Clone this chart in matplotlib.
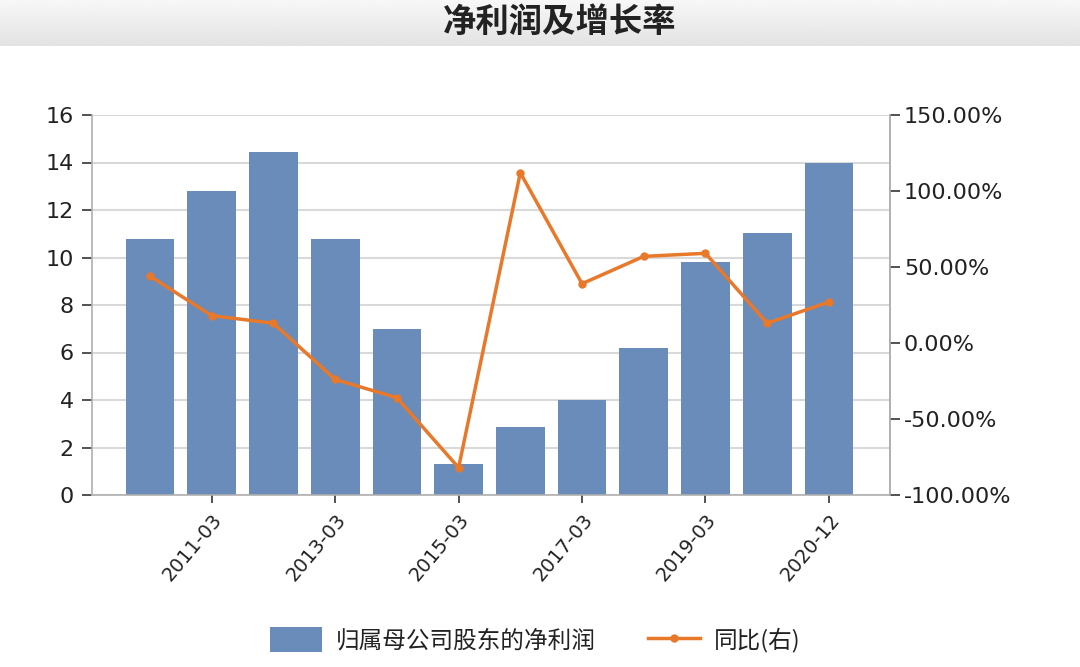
import numpy as np
import matplotlib.pyplot as plt

plt.rcParams['font.family'] = ['DejaVu Sans', 'Noto Sans CJK SC']

periods = ['2010-03', '2011-03', '2012-03', '2013-03', '2014-03', '2015-03',
           '2016-03', '2017-03', '2018-03', '2019-03', '2019-12', '2020-12']
profit = [10.8, 12.8, 14.45, 10.8, 7.0, 1.3, 2.85, 4.0, 6.2, 9.8, 11.05, 14.0]
growth = [44, 18, 13, -24, -36, -82, 112, 39, 57, 59, 13, 27]
tick_idx = [1, 3, 5, 7, 9, 11]

BAR_COLOR = '#6a8cba'
LINE_COLOR = '#e8782a'
GRID_COLOR = '#d9d9d9'
SPINE_COLOR = '#b0b0b0'
CJK = ['Noto Sans CJK SC', 'DejaVu Sans']

fig = plt.figure(figsize=(10.8, 6.67), dpi=100)

# grey title band
band = fig.add_axes([0, 1 - 46 / 667, 1, 46 / 667])
grad = np.linspace(0.97, 0.89, 50).reshape(-1, 1)
band.imshow(grad, aspect='auto', cmap='gray', vmin=0, vmax=1, extent=[0, 1, 0, 1])
band.axis('off')
fig.text(560 / 1080, 1 - 22 / 667, '净利润及增长率', ha='center', va='center',
         fontsize=24, fontweight='bold', family=CJK, color='#222222')

ax = fig.add_axes([92 / 1080, 1 - 495 / 667, (890 - 92) / 1080, (495 - 115) / 667])
x = np.arange(len(periods))
bars = ax.bar(x, profit, width=0.79, color=BAR_COLOR, zorder=2)
ax.set_ylim(0, 16)
ax.set_yticks(np.arange(0, 17, 2))
ax.set_xlim(-0.94, 11.99)
ax.set_xticks(tick_idx)
ax.set_xticklabels([periods[i] for i in tick_idx], rotation=50, ha='right',
                   rotation_mode='anchor', fontsize=14, color='#222222')
ax.grid(axis='y', color=GRID_COLOR, linewidth=1.5, zorder=0)
ax.set_axisbelow(True)
ax.spines['top'].set_visible(False)
for s in ['left', 'bottom', 'right']:
    ax.spines[s].set_color(SPINE_COLOR)
    ax.spines[s].set_linewidth(1.2)
ax.tick_params(axis='y', labelsize=16, length=7, color='#333333', width=1.2, pad=6,
               labelcolor='#222222')
ax.tick_params(axis='x', length=6, color='#333333', width=1.2, pad=5)

ax2 = ax.twinx()
line, = ax2.plot(x, growth, color=LINE_COLOR, linewidth=2.5, marker='o',
                 markersize=5, zorder=3)
ax2.set_ylim(-100, 150)
ax2.set_yticks(np.arange(-100, 151, 50))
ax2.set_yticklabels(['%.2f%%' % v for v in np.arange(-100, 151, 50)])
ax2.tick_params(axis='y', labelsize=16, length=7, color='#333333', width=1.2, pad=3,
                labelcolor='#222222')
for s in ['top', 'left', 'bottom']:
    ax2.spines[s].set_visible(False)
ax2.spines['right'].set_color(SPINE_COLOR)
ax2.spines['right'].set_linewidth(1.2)

fig.legend([bars, line], ['归属母公司股东的净利润', '同比(右)'],
           loc='center', bbox_to_anchor=(535 / 1080, 1 - 640 / 667), ncol=2,
           frameon=False, prop={'family': CJK, 'size': 17},
           handlelength=2.2, handleheight=1.2, columnspacing=2.2, handletextpad=0.6,
           labelcolor='#222222')

fig.savefig('out.png', dpi=100)
